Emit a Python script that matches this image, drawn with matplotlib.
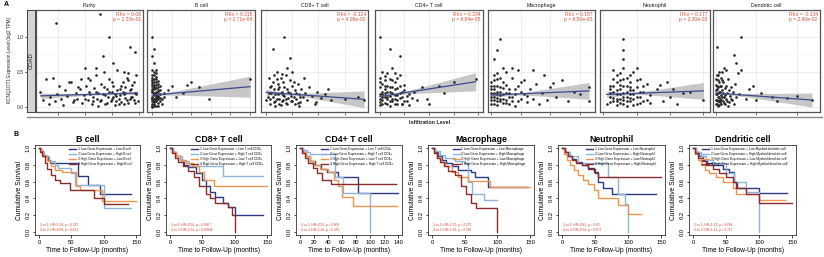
import numpy as np
import matplotlib.pyplot as plt
from matplotlib.lines import Line2D

plt.rcParams['font.family'] = ['Liberation Sans', 'DejaVu Sans']

W, H = 824, 257

# ---------------- A: infiltration level vs expression (log2 TPM) ----------------
purity_pts = [(0.27,0.22),(0.29,0.10),(0.31,0.40),(0.33,0.05),(0.34,0.15),(0.36,0.41),(0.38,0.08),(0.39,0.18),
              (0.41,0.30),(0.42,0.12),(0.44,0.03),(0.45,0.24),(0.47,0.16),(0.48,0.35),(0.50,0.35),(0.51,0.07),
              (0.53,0.20),(0.54,0.12),(0.55,0.28),(0.57,0.40),(0.58,0.06),(0.59,0.17),(0.60,0.55),(0.61,0.30),
              (0.62,0.10),(0.63,0.22),(0.64,0.38),(0.65,0.04),(0.66,0.15),(0.67,0.27),(0.68,0.45),(0.69,0.12),
              (0.70,0.20),(0.71,0.08),(0.72,0.33),(0.73,0.18),(0.74,0.50),(0.75,0.05),(0.76,0.25),(0.77,0.14),
              (0.78,0.40),(0.79,0.09),(0.80,0.22),(0.81,0.30),(0.82,0.03),(0.83,0.16),(0.84,0.52),(0.85,0.11),
              (0.86,0.26),(0.87,0.07),(0.88,0.35),(0.89,0.19),(0.90,0.13),(0.91,0.42),(0.92,0.06),(0.93,0.24),
              (0.94,0.15),(0.95,0.32),(0.96,0.10),(0.97,0.20),(0.98,0.45),(0.99,0.08),(0.80,0.12),(0.85,0.04),
              (0.90,0.28),(0.75,0.17),(0.70,0.02),(0.88,0.21),(0.93,0.11),(0.82,0.19),
              (0.72,0.10),(0.74,0.28),(0.76,0.06),(0.78,0.21),(0.80,0.35),(0.81,0.15),(0.83,0.09),(0.84,0.24),
              (0.86,0.17),(0.87,0.30),(0.89,0.05),(0.90,0.20),(0.91,0.10),(0.92,0.38),(0.94,0.25),(0.95,0.14),
              (0.96,0.35),(0.97,0.06),(0.98,0.18),(0.66,0.09),(0.68,0.22),(0.64,0.18),(0.60,0.12),(0.56,0.25),
              (0.52,0.10),
              (0.385,1.20),(0.71,1.33),(0.78,1.00),(0.93,0.85),(0.97,0.78),(0.73,0.72),(0.68,0.55),(0.62,0.42),
              (0.89,0.50),(0.81,0.62),(0.92,0.48)]
bcell_pts = [(0.00,0.02),(0.01,0.05),(0.00,0.08),(0.02,0.10),(0.01,0.12),(0.00,0.15),(0.02,0.17),(0.01,0.19),
             (0.03,0.21),(0.00,0.23),(0.01,0.25),(0.02,0.27),(0.00,0.30),(0.01,0.32),(0.02,0.35),(0.00,0.38),
             (0.01,0.40),(0.02,0.43),(0.00,0.46),(0.01,0.50),(0.02,0.53),(0.03,0.06),(0.03,0.14),(0.04,0.18),
             (0.03,0.28),(0.04,0.09),(0.02,0.01),(0.01,0.07),(0.00,0.11),(0.02,0.13),(0.03,0.16),(0.01,0.20),
             (0.00,0.26),(0.02,0.22),(0.04,0.24),(0.01,0.29),(0.03,0.33),(0.00,0.36),(0.05,0.12),(0.06,0.20),
             (0.05,0.04),(0.06,0.15),
             (0.00,0.04),(0.01,0.09),(0.00,0.13),(0.02,0.15),(0.01,0.17),(0.00,0.21),(0.02,0.19),(0.03,0.11),
             (0.01,0.27),(0.00,0.33),(0.02,0.31),(0.03,0.24),(0.01,0.36),(0.02,0.40),(0.00,0.42),(0.01,0.45),
             (0.03,0.02),(0.04,0.13),(0.02,0.08),(0.00,0.00),(0.01,0.02),(0.03,0.37),(0.02,0.48),(0.00,0.52),
             (0.04,0.30),
             (0.00,1.00),(0.01,0.83),(0.00,0.72),(0.01,0.62),(0.10,0.30),(0.18,0.32),(0.20,0.35),(0.24,0.28),
             (0.29,0.12),(0.16,0.20),(0.50,0.40),(0.12,0.15),(0.08,0.24)]
cd8_pts = [(0.00,0.10),(0.02,0.20),(0.03,0.05),(0.04,0.30),(0.05,0.15),(0.06,0.25),(0.07,0.08),(0.08,0.40),
           (0.09,0.18),(0.10,0.12),(0.10,0.28),(0.11,0.03),(0.12,0.22),(0.13,0.35),(0.13,0.10),(0.14,0.16),
           (0.15,0.45),(0.15,0.06),(0.16,0.26),(0.17,0.13),(0.18,0.20),(0.18,0.38),(0.19,0.08),(0.20,0.30),
           (0.21,0.15),(0.22,0.04),(0.22,0.24),(0.23,0.11),(0.24,0.33),(0.25,0.18),(0.26,0.07),(0.27,0.25),
           (0.28,0.14),(0.29,0.42),(0.30,0.20),(0.31,0.10),(0.33,0.28),(0.35,0.16),(0.37,0.05),(0.39,0.22),
           (0.42,0.13),(0.45,0.18),(0.05,0.35),(0.08,0.50),(0.12,0.47),(0.16,0.55),(0.20,0.50),(0.02,0.42),
           (0.07,0.02),(0.25,0.02),
           (0.01,0.15),(0.03,0.12),(0.04,0.20),(0.06,0.07),(0.07,0.18),(0.08,0.12),(0.09,0.26),(0.10,0.05),
           (0.11,0.20),(0.12,0.09),(0.13,0.17),(0.14,0.28),(0.15,0.12),(0.16,0.04),(0.17,0.22),(0.19,0.16),
           (0.20,0.09),(0.21,0.36),(0.23,0.20),(0.24,0.06),(0.26,0.14),(0.09,0.33),(0.11,0.42),(0.06,0.45),
           (0.03,0.28),
           (0.14,1.00),(0.05,0.83),(0.18,0.70),(0.38,0.07),(0.50,0.10),(0.70,0.15),(0.75,0.10),(0.60,0.12),
           (0.47,0.25)]
cd4_pts = [(0.00,0.03),(0.01,0.10),(0.00,0.18),(0.02,0.25),(0.01,0.33),(0.00,0.42),(0.02,0.06),(0.03,0.14),
           (0.02,0.20),(0.03,0.30),(0.04,0.08),(0.04,0.22),(0.05,0.12),(0.05,0.38),(0.06,0.04),(0.06,0.17),
           (0.07,0.27),(0.07,0.10),(0.08,0.20),(0.08,0.45),(0.09,0.14),(0.09,0.05),(0.10,0.24),(0.10,0.32),
           (0.11,0.09),(0.12,0.18),(0.13,0.13),(0.01,0.50),(0.03,0.48),(0.05,0.55),(0.00,0.28),(0.01,0.22),
           (0.02,0.38),(0.04,0.02),(0.06,0.35),(0.07,0.42),(0.12,0.03),(0.14,0.22),(0.15,0.10),(0.03,0.12),
           (0.01,0.15),(0.05,0.28),
           (0.00,0.07),(0.01,0.04),(0.00,0.12),(0.01,0.19),(0.02,0.15),(0.02,0.30),(0.03,0.05),(0.03,0.22),
           (0.04,0.16),(0.04,0.28),(0.05,0.08),(0.05,0.20),(0.06,0.11),(0.06,0.25),(0.07,0.05),(0.07,0.17),
           (0.08,0.13),(0.08,0.30),(0.09,0.22),(0.10,0.08),(0.11,0.16),(0.02,0.44),(0.04,0.40),(0.00,0.35),
           (0.06,0.48),
           (0.00,1.00),(0.04,0.83),(0.08,0.73),(0.17,0.28),(0.24,0.30),(0.26,0.20),(0.19,0.12),(0.39,0.40),
           (0.09,0.05),(0.20,0.05),(0.30,0.35)]
mac_pts = [(0.00,0.05),(0.00,0.15),(0.00,0.25),(0.00,0.35),(0.01,0.10),(0.01,0.20),(0.01,0.30),(0.01,0.45),
           (0.02,0.03),(0.02,0.13),(0.02,0.22),(0.02,0.40),(0.03,0.08),(0.03,0.17),(0.03,0.28),(0.04,0.12),
           (0.04,0.35),(0.05,0.06),(0.05,0.20),(0.05,0.50),(0.06,0.14),(0.06,0.26),(0.07,0.09),(0.07,0.42),
           (0.08,0.18),(0.08,0.02),(0.09,0.30),(0.10,0.11),(0.10,0.22),(0.11,0.38),(0.12,0.07),(0.12,0.16),
           (0.13,0.25),(0.14,0.12),(0.15,0.33),(0.16,0.05),(0.17,0.20),(0.18,0.45),(0.19,0.10),(0.20,0.28),
           (0.22,0.15),(0.24,0.38),(0.26,0.08),(0.28,0.22),(0.04,0.55),(0.07,0.55),(0.09,0.53),(0.14,0.52),
           (0.02,0.48),
           (0.00,0.10),(0.00,0.20),(0.00,0.30),(0.01,0.05),(0.01,0.15),(0.01,0.25),(0.01,0.38),(0.02,0.08),
           (0.02,0.18),(0.02,0.30),(0.03,0.12),(0.03,0.22),(0.03,0.42),(0.04,0.06),(0.04,0.18),(0.04,0.27),
           (0.05,0.10),(0.05,0.32),(0.06,0.04),(0.06,0.20),(0.07,0.15),(0.08,0.26),(0.09,0.08),(0.10,0.35),
           (0.11,0.19),
           (0.03,0.97),(0.02,0.81),(0.01,0.68),(0.21,0.34),(0.33,0.28),(0.33,0.08),(0.30,0.18)]
neut_pts = [(0.01,0.05),(0.02,0.15),(0.02,0.30),(0.03,0.08),(0.03,0.22),(0.03,0.40),(0.04,0.03),(0.04,0.12),
            (0.04,0.18),(0.04,0.35),(0.05,0.06),(0.05,0.25),(0.05,0.48),(0.06,0.10),(0.06,0.20),(0.06,0.30),
            (0.06,0.55),(0.07,0.02),(0.07,0.14),(0.07,0.42),(0.08,0.08),(0.08,0.24),(0.08,0.35),(0.09,0.12),
            (0.09,0.18),(0.09,0.50),(0.10,0.05),(0.10,0.28),(0.11,0.15),(0.11,0.40),(0.12,0.09),(0.12,0.22),
            (0.13,0.33),(0.14,0.06),(0.14,0.17),(0.05,0.38),(0.03,0.52),(0.07,0.30),(0.02,0.20),(0.08,0.45),
            (0.10,0.55),(0.13,0.10),
            (0.02,0.07),(0.02,0.25),(0.03,0.13),(0.03,0.30),(0.04,0.08),(0.04,0.24),(0.05,0.12),(0.05,0.18),
            (0.05,0.32),(0.06,0.05),(0.06,0.15),(0.06,0.40),(0.07,0.08),(0.07,0.22),(0.08,0.13),(0.08,0.18),
            (0.08,0.28),(0.09,0.03),(0.09,0.24),(0.10,0.15),(0.10,0.38),(0.11,0.06),(0.11,0.22),(0.12,0.30),
            (0.04,0.45),
            (0.06,0.97),(0.06,0.81),(0.06,0.69),(0.16,0.26),(0.17,0.32),(0.19,0.35),(0.20,0.15),(0.22,0.05),
            (0.24,0.20),(0.26,0.22),(0.30,0.10),(0.18,0.08),(0.21,0.25)]
dend_pts = [(0.000,0.05),(0.000,0.18),(0.000,0.32),(0.005,0.10),(0.005,0.25),(0.005,0.45),(0.010,0.02),
            (0.010,0.14),(0.010,0.38),(0.015,0.08),(0.015,0.21),(0.015,0.50),(0.020,0.12),(0.020,0.30),
            (0.025,0.05),(0.025,0.17),(0.025,0.42),(0.030,0.24),(0.035,0.09),(0.035,0.35),(0.040,0.15),
            (0.040,0.55),(0.045,0.04),(0.045,0.27),(0.050,0.12),(0.055,0.20),(0.060,0.40),(0.065,0.07),
            (0.070,0.16),(0.075,0.28),(0.080,0.10),(0.085,0.22),(0.090,0.05),(0.095,0.33),(0.100,0.14),
            (0.110,0.48),(0.115,0.18),(0.125,0.52),(0.030,0.50),(0.050,0.52),(0.010,0.28),(0.060,0.02),
            (0.000,0.10),(0.000,0.24),(0.000,0.40),(0.005,0.05),(0.005,0.18),(0.005,0.30),(0.010,0.08),
            (0.010,0.20),(0.010,0.46),(0.015,0.03),(0.015,0.14),(0.015,0.35),(0.020,0.07),(0.020,0.22),
            (0.025,0.10),(0.025,0.30),(0.030,0.14),(0.030,0.38),(0.035,0.20),(0.040,0.06),(0.045,0.17),
            (0.050,0.30),(0.055,0.08),(0.065,0.24),(0.075,0.12),
            (0.125,1.00),(0.005,0.85),(0.090,0.74),(0.100,0.63),(0.150,0.12),(0.165,0.25),(0.200,0.10),
            (0.225,0.20),(0.275,0.15),(0.300,0.08),(0.350,0.13),(0.400,0.16),(0.475,0.10),(0.185,0.30)]

scatter_sets = [purity_pts, bcell_pts, cd8_pts, cd4_pts, mac_pts, neut_pts, dend_pts]
scatter_titles = ['Purity', 'B cell', 'CD8+ T cell', 'CD4+ T cell', 'Macrophage', 'Neutrophil', 'Dendritic cell']
rho_vals = ['0.08', '0.218', '-0.124', '0.234', '0.157', '0.177', '-0.134']
p_vals = ['1.37e-01', '2.71e-04', '4.05e-02', '8.84e-05', '8.90e-03', '3.30e-03', '2.60e-02']
fit_left = [0.16, 0.17, 0.21, 0.15, 0.17, 0.18, 0.20]
fit_right = [0.20, 0.29, 0.11, 0.36, 0.23, 0.23, 0.10]
ci_mid = [0.012, 0.015, 0.015, 0.015, 0.015, 0.015, 0.015]
ci_right = [0.025, 0.15, 0.12, 0.13, 0.12, 0.12, 0.10]
scatter_xlim = [(0.237, 1.03), (-0.026, 0.525), (-0.04, 0.78), (-0.02, 0.42), (-0.01, 0.35), (-0.01, 0.32), (-0.015, 0.515)]
scatter_xticks = [[0.4, 0.6, 0.8, 1.0], [0, .1, .2, .3, .4, .5], [0, .2, .4, .6], [0, .1, .2, .3, .4],
                  [0, .1, .2, .3], [0, .1, .2, .3], [0, .2, .4]]

# ---------------- B: Kaplan-Meier curves (time in months, survival) ----------------
km_bcell = [([0,3,6,10,14,17,60,76,94,142], [1,0.96,0.92,0.9,0.86,0.82,0.67,0.56,0.45,0.45]),
            ([0,4,8,15,25,30,50,55,100,142], [1,0.95,0.9,0.85,0.8,0.76,0.7,0.56,0.28,0.28]),
            ([0,3,7,12,18,25,35,58,63,98,150], [1,0.95,0.9,0.85,0.78,0.74,0.72,0.55,0.5,0.37,0.37]),
            ([0,2,5,9,13,18,25,33,48,85,100,138], [1,0.95,0.9,0.82,0.75,0.68,0.62,0.58,0.5,0.41,0.33,0.33])]
km_cd8 = [([0,5,10,15,22,30,40,50,55,62,70,82,90,100,143], [1,0.95,0.9,0.86,0.8,0.77,0.7,0.62,0.55,0.48,0.42,0.35,0.3,0.2,0.2]),
          ([0,5,10,18,30,82,144], [1,0.95,0.9,0.84,0.78,0.67,0.67]),
          ([0,4,10,16,25,35,45,52,68,150], [1,0.95,0.9,0.86,0.82,0.78,0.72,0.62,0.55,0.55]),
          ([0,3,8,13,20,28,37,45,55,62,70,90,96,101], [1,0.94,0.88,0.83,0.78,0.73,0.65,0.55,0.45,0.4,0.35,0.3,0.2,0.0])]
km_cd4 = [([0,4,9,15,22,30,38,55,83,140], [1,0.95,0.9,0.85,0.8,0.75,0.72,0.65,0.46,0.46]),
          ([0,4,10,14,50,62,100], [1,0.97,0.95,0.93,0.65,0.46,0.0]),
          ([0,3,8,14,20,28,40,48,55,60,75,138], [1,0.95,0.9,0.85,0.8,0.75,0.72,0.62,0.55,0.42,0.31,0.31]),
          ([0,3,7,12,18,25,32,45,137], [1,0.94,0.88,0.82,0.76,0.7,0.62,0.57,0.57])]
km_mac = [([0,4,9,15,22,30,40,60,66,85,145], [1,0.95,0.9,0.86,0.82,0.78,0.74,0.72,0.65,0.53,0.53]),
          ([0,5,12,20,35,50,55,62,80,100], [1,0.96,0.92,0.88,0.85,0.82,0.6,0.45,0.38,0.38]),
          ([0,3,8,14,20,30,40,55,88,150], [1,0.94,0.88,0.83,0.78,0.72,0.66,0.61,0.53,0.53]),
          ([0,3,7,12,18,25,35,45,52,60,68,100], [1,0.94,0.88,0.83,0.78,0.73,0.68,0.55,0.45,0.35,0.29,0.0])]
km_neut = [([0,4,9,15,22,30,40,48,55,62,75,143], [1,0.95,0.91,0.87,0.83,0.8,0.76,0.72,0.6,0.52,0.45,0.45]),
           ([0,5,12,25,70,85,95,100], [1,0.95,0.9,0.82,0.65,0.45,0.33,0.0]),
           ([0,3,7,12,18,25,32,40,48,55,85,100,120], [1,0.93,0.86,0.8,0.74,0.68,0.62,0.57,0.5,0.4,0.32,0.21,0.21]),
           ([0,4,9,15,22,30,40,50,55,150], [1,0.95,0.9,0.86,0.82,0.8,0.75,0.7,0.65,0.65])]
km_dend = [([0,4,9,15,22,30,45,55,62,66,100,143], [1,0.95,0.9,0.86,0.82,0.8,0.75,0.72,0.6,0.52,0.47,0.47]),
           ([0,5,12,20,30,50,62,80,100], [1,0.95,0.9,0.86,0.82,0.7,0.6,0.48,0.0]),
           ([0,3,7,12,18,25,35,45,60,65,100,140], [1,0.93,0.86,0.8,0.74,0.7,0.65,0.6,0.52,0.45,0.38,0.38]),
           ([0,3,8,14,20,30,40,50,60,65,80,100,150], [1,0.94,0.88,0.84,0.8,0.75,0.7,0.65,0.6,0.52,0.45,0.35,0.35])]

km_sets = [km_bcell, km_cd8, km_cd4, km_mac, km_neut, km_dend]
km_titles = ['B cell', 'CD8+ T cell', 'CD4+ T cell', 'Macrophage', 'Neutrophil', 'Dendritic cell']
km_cells = ['B cell', 'T cell CD8+', 'T cell CD4+', 'Macrophage', 'Neutrophil', 'Myeloid dendritic cell']
km_xmax = [150, 150, 140, 150, 150, 150]
km_stats = [('2 vs 1: HR=1.38, p = 0.327', '4 vs 3: HR=0.89, p = 0.671'),
            ('2 vs 1: HR=0.56, p = 0.0967', '4 vs 3: HR=2.04, p = 0.00946'),
            ('2 vs 1: HR=0.91, p = 0.808', '4 vs 3: HR=1.26, p = 0.455'),
            ('2 vs 1: HR=1.50, p = 0.270', '4 vs 3: HR=1.43, p = 0.286'),
            ('2 vs 1: HR=0.81, p = 0.55', '4 vs 3: HR=0.54, p = 0.071'),
            ('2 vs 1: HR=1.13, p = 0.698', '4 vs 3: HR=1.12, p = 0.717')]
km_colors = ['#2d3a86', '#8fb3d9', '#ea9550', '#8b2b2b']


def box(l, t, r, b):
    return fig.add_axes([l / W, 1 - b / H, (r - l) / W, (b - t) / H])


fig = plt.figure(figsize=(W / 100, H / 100), dpi=100)

# ---- panel A ----
scatter_px = [(36, 143), (147, 255), (261, 368), (375, 483), (488, 595), (600, 710), (713, 820)]
ylim = (-0.07, 1.38)
for i, pts in enumerate(scatter_sets):
    l, r = scatter_px[i]
    ax = box(l, 10, r, 112)
    x = np.array([p[0] for p in pts])
    y = np.array([p[1] for p in pts])
    ax.set_xlim(scatter_xlim[i])
    ax.set_ylim(ylim)
    ax.set_xticks(scatter_xticks[i])
    ax.set_xticklabels([])
    ax.set_yticks([0, 0.5, 1.0])
    ax.set_yticks([0.25, 0.75, 1.25], minor=True)
    ax.set_yticklabels([])
    ax.grid(True, which='major', color='#e6e6e6', lw=0.5)
    ax.grid(True, which='minor', axis='y', color='#f0f0f0', lw=0.3)
    ax.tick_params(axis='x', length=1.8, width=0.5, color='#444')
    ax.tick_params(axis='y', length=0, which='both')
    for s in ax.spines.values():
        s.set_color('#555')
        s.set_linewidth(0.9)
    ax.set_axisbelow(True)

    # regression line with confidence band
    xs = np.linspace(x.min(), x.max(), 60)
    xc = x.mean()
    fit = fit_left[i] + (fit_right[i] - fit_left[i]) * (xs - x.min()) / (x.max() - x.min())
    rel = (xs - xc) / (x.max() - xc)
    hw = np.sqrt(ci_mid[i] ** 2 + (ci_right[i] ** 2 - ci_mid[i] ** 2) * rel ** 2)
    ax.fill_between(xs, fit - hw, fit + hw, color='#b5b5b5', alpha=0.75, lw=0, zorder=2)
    ax.scatter(x, y, s=3.6, color='#262626', lw=0, zorder=3)
    ax.plot(xs, fit, color='#3c4a8e', lw=0.9, zorder=4)

    ax.text(0.98, 0.985, 'Rho = ' + rho_vals[i] + '\np = ' + p_vals[i], transform=ax.transAxes,
            ha='right', va='top', fontsize=3.6, color='#e0553f', linespacing=1.1)
    fig.text((l + r) / 2 / W, 1 - 5.5 / H, scatter_titles[i], ha='center', va='center',
             fontsize=3.8, color='#1a1a1a')

# left strip with COAD label and y tick labels
strip = box(27, 10, 35, 112)
strip.set_facecolor('#d4d4d4')
strip.set_xticks([])
strip.set_ylim(ylim)
strip.set_yticks([0, 0.5, 1.0])
strip.set_yticklabels(['0.0', '0.5', '1.0'], fontsize=3.6, color='#333')
strip.tick_params(axis='y', length=1.5, width=0.5, pad=1)
for s in strip.spines.values():
    s.set_color('#444')
    s.set_linewidth(0.7)
strip.text(0.5, 0.5, 'COAD', rotation=90, ha='center', va='center', fontsize=4.2,
           color='#1a1a1a', transform=strip.transAxes)

fig.text(10 / W, 1 - 60 / H, 'KCNQ1OT1 Expression Level (log2 TPM)', rotation=90,
         ha='center', va='center', fontsize=3.3, color='#222')
fig.add_artist(Line2D([27 / W, 822 / W], [1 - 117 / H, 1 - 117 / H], color='#888', lw=1.0))
fig.text(430 / W, 1 - 122 / H, 'Infiltration Level', ha='center', va='center',
         fontsize=3.8, fontweight='bold', color='#222')
fig.text(4 / W, 1 - 5 / H, 'A', fontsize=5, fontweight='bold', ha='left', va='center')
fig.text(14 / W, 1 - 135 / H, 'B', fontsize=5, fontweight='bold', ha='left', va='center')

# ---- panel B ----
km_px = [(35, 140), (166, 271), (296, 402), (428, 534), (558, 665), (689, 796)]
for i, curves in enumerate(km_sets):
    l, r = km_px[i]
    ax = box(l, 144.6, r, 235.4)
    xm = km_xmax[i]
    ax.set_xlim(-0.04 * xm, 1.04 * xm)
    ax.set_ylim(-0.04, 1.04)
    labels = ['1 Low Gene Expression + Low ' + km_cells[i],
              '2 Low Gene Expression + High ' + km_cells[i],
              '3 High Gene Expression + Low ' + km_cells[i],
              '4 High Gene Expression + High ' + km_cells[i]]
    for k, (t, s) in enumerate(curves):
        ax.step(t, s, where='post', color=km_colors[k], lw=1.0, label=labels[k])
    ax.set_xticks(np.arange(0, xm + 1, 20 if xm == 140 else 50))
    ax.set_yticks(np.arange(0, 1.01, 0.2))
    ax.set_yticklabels(['%.1f' % v for v in np.arange(0, 1.01, 0.2)], rotation=90, va='center')
    ax.tick_params(labelsize=4.2, length=1.8, width=0.5, pad=1.2)
    for sp in ax.spines.values():
        sp.set_linewidth(0.6)
        sp.set_color('#333')
    ax.set_title(km_titles[i], fontsize=6.3, fontweight='bold', pad=2)
    ax.set_xlabel('Time to Follow-Up (months)', fontsize=4.8, labelpad=2)
    ax.set_ylabel('Cumulative Survival', fontsize=4.8, labelpad=2)
    ax.legend(loc='upper right', bbox_to_anchor=(0.94, 0.99), fontsize=2.3, frameon=False,
              handlelength=2.2, labelspacing=0.25, handletextpad=0.6, borderaxespad=0.2)
    ax.text(0.05, 0.085, km_stats[i][0] + '\n' + km_stats[i][1], transform=ax.transAxes,
            fontsize=2.3, color='#d9452b', ha='left', va='center', linespacing=1.3)

fig.savefig('out.png', dpi=100)
